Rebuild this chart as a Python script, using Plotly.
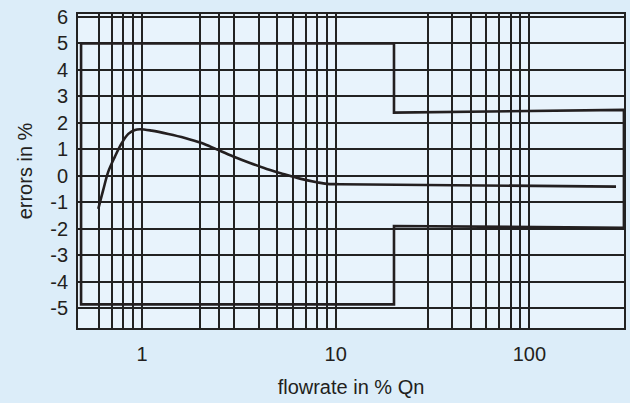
import plotly.graph_objects as go

# flowrate (% Qn) and error (%) of the measured curve
curve_x = [0.594, 0.630, 0.669, 0.724, 0.785, 0.849, 0.919, 0.975, 1.121, 1.366, 1.665,
           2.032, 2.428, 2.958, 3.609, 4.401, 5.362, 6.541, 7.977, 8.985, 10.52, 280.4]
curve_y = [-1.245, -0.528, 0.162, 0.728, 1.234, 1.585, 1.736, 1.762, 1.709, 1.585, 1.434,
           1.240, 1.000, 0.735, 0.489, 0.263, 0.074, -0.103, -0.238, -0.302, -0.313, -0.404]

# permissible error limits (closed envelope)
limit_x = [0.484, 20, 20, 308, 308, 20, 20, 0.484, 0.484]
limit_y = [5.0, 5.0, 2.39, 2.49, -1.96, -1.89, -4.85, -4.85, 5.0]

# grid positions and labels
x_grid = [0.6, 0.7, 0.8, 0.9, 1, 2, 2.5, 3, 4, 5, 6, 7, 8, 9, 10,
          30, 40, 50, 60, 70, 80, 90, 100]
x_labels = {1: "1", 10: "10", 100: "100"}
y_ticks = [-5, -4, -3, -2, -1, 0, 1, 2, 3, 4, 5, 6]
y_labels = ["-5", "-4", "-3", "-2", "-1", "0", "1", "2", "3", "4", "5", "6"]

FONT = "Liberation Sans, Arial, sans-serif"
INK = "#231f20"
FS = 20

fig = go.Figure()
fig.add_trace(go.Scatter(x=limit_x, y=limit_y, mode="lines",
                         line=dict(color=INK, width=2.6), hoverinfo="skip", cliponaxis=False))
fig.add_trace(go.Scatter(x=curve_x, y=curve_y, mode="lines", line_shape="spline",
                         line=dict(color=INK, width=2.6, smoothing=1.0), hoverinfo="skip"))

fig.update_layout(
    width=630, height=403,
    margin=dict(l=78, r=6, t=14, b=75),
    paper_bgcolor="#dcedf9",
    plot_bgcolor="#e8f3fc",
    showlegend=False,
    font=dict(family=FONT, size=FS, color=INK),
    xaxis=dict(
        type="log", range=[-0.331, 2.489], automargin=False,
        tickvals=x_grid, ticktext=[x_labels.get(v, "") for v in x_grid],
        tickfont=dict(family=FONT, size=FS, color=INK),
        showgrid=True, gridcolor="#222222", gridwidth=1.5,
        showline=True, linecolor="#222222", linewidth=1.8, mirror=True,
        ticks="", ticklabelstandoff=7, zeroline=False,
        title=dict(text="flowrate in % Qn", font=dict(size=FS), standoff=16),
    ),
    yaxis=dict(
        range=[-5.74, 6.11], tickvals=y_ticks, ticktext=y_labels, automargin=False,
        tickfont=dict(family=FONT, size=FS, color=INK),
        showgrid=True, gridcolor="#222222", gridwidth=1.5,
        showline=True, linecolor="#222222", linewidth=1.8, mirror=True,
        ticks="", ticklabelstandoff=4, zeroline=False,
        title=dict(text="errors in %", font=dict(size=FS), standoff=12),
    ),
)
fig.add_annotation(x=0, xref="paper", y=-6, yref="y", text="-6", showarrow=False,
                   xanchor="right", xshift=-3, font=dict(size=FS, family=FONT, color=INK))

fig.write_html("out.html", config={"displayModeBar": False},
               post_script="document.body.style.margin='0';document.body.style.background='#dcedf9';")
